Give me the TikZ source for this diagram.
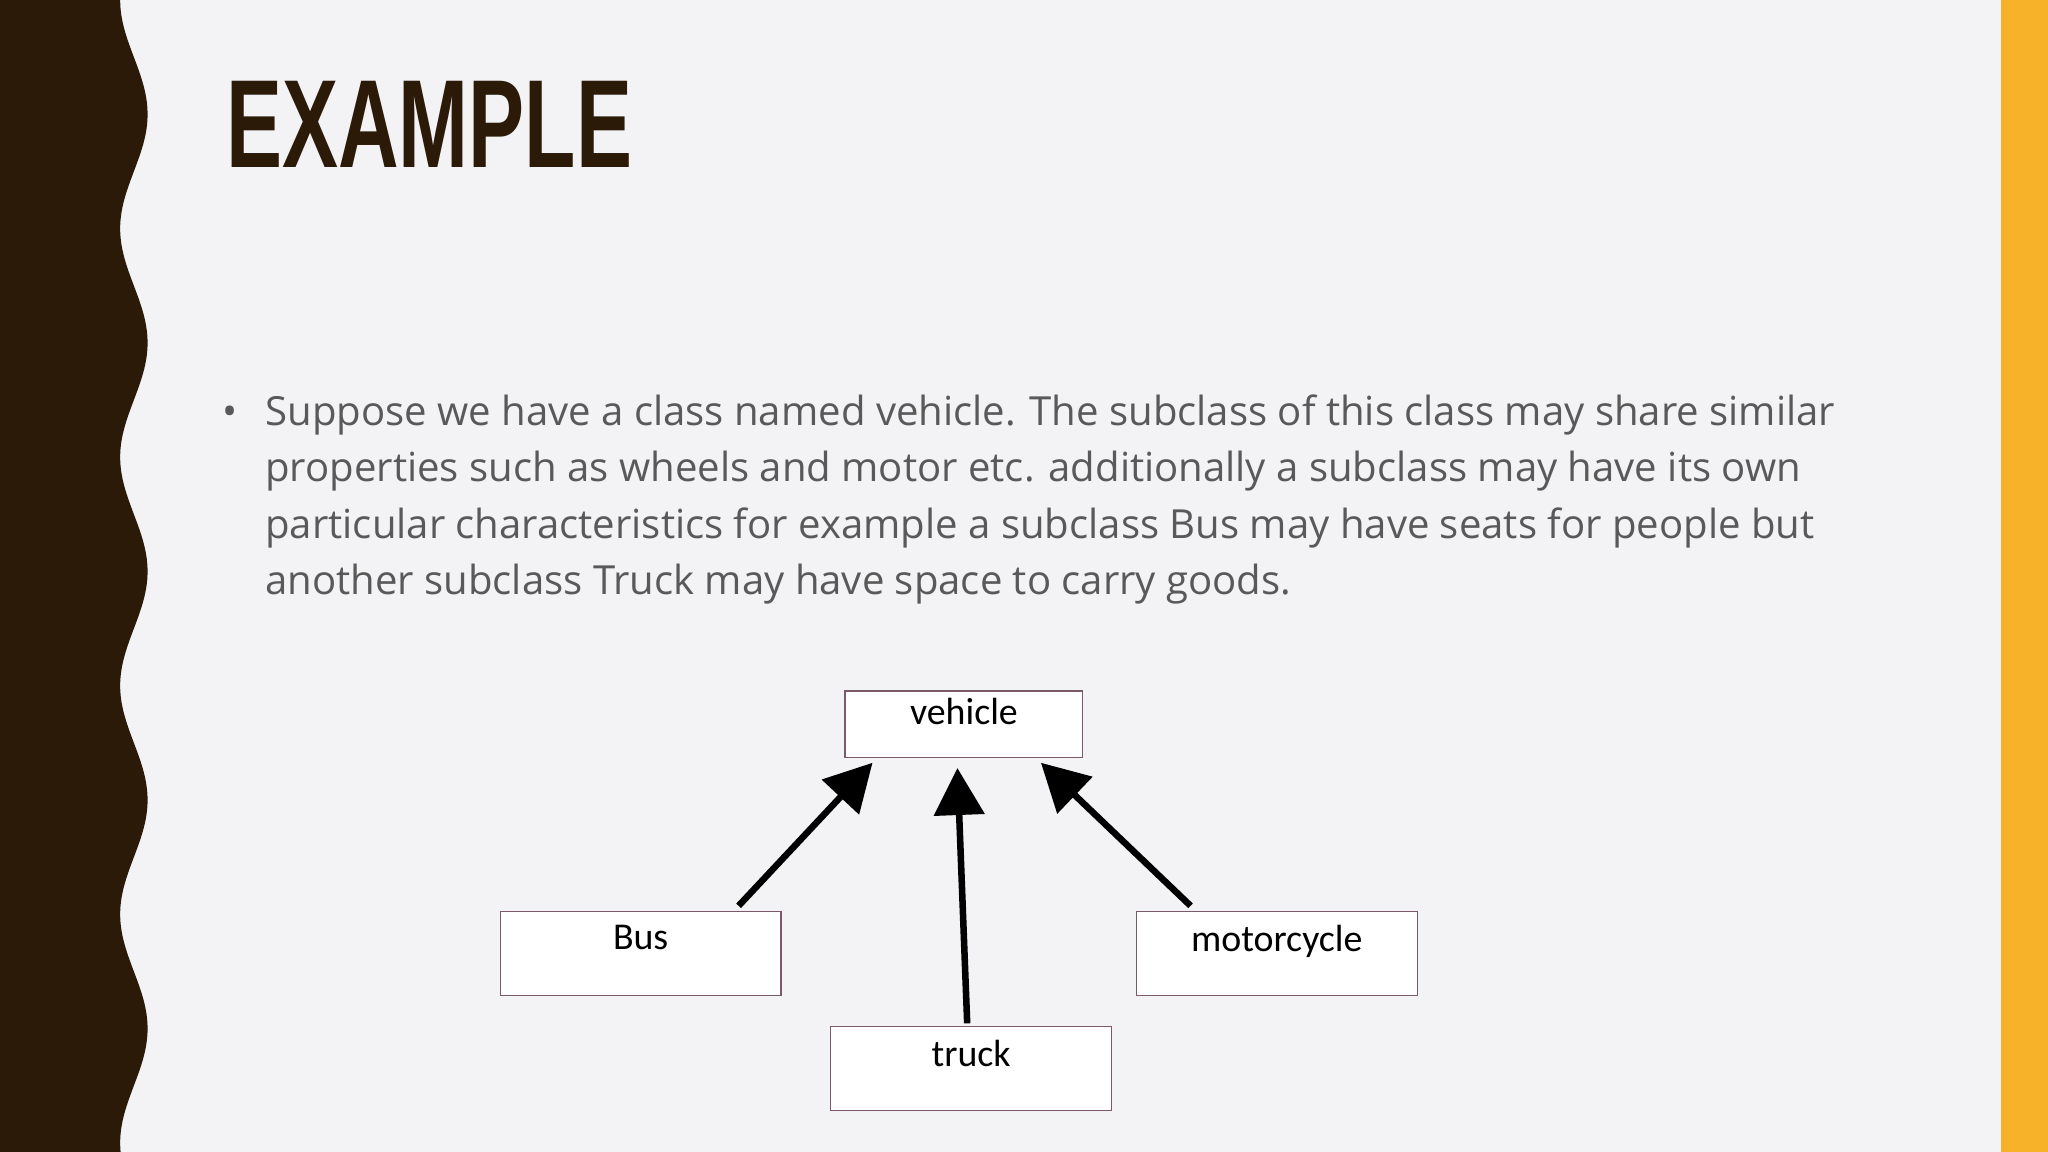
\documentclass[tikz,border=0pt]{standalone}
\usepackage{fontspec}
\setmainfont{Open Sans}
\newfontfamily\boxfont{Carlito}
\newfontfamily\titlefont{Liberation Sans}
\usetikzlibrary{arrows.meta}
\definecolor{bg}{HTML}{F3F2F4}
\definecolor{brownband}{HTML}{2B1A08}
\definecolor{orangeband}{HTML}{F8B22A}
\definecolor{bodygrey}{HTML}{595959}
\definecolor{boxline}{HTML}{7A5A6A}
\tikzset{
  classbox/.style={draw=boxline, line width=1pt, fill=white, inner sep=0pt},
  boxlabel/.style={font=\boxfont\fontsize{29}{33}\selectfont, text=black, anchor=north},
  bodyline/.style={font=\fontsize{30.7}{36}\selectfont, text=bodygrey, anchor=base west, inner sep=0pt},
  inh/.style={line width=5pt, -{Triangle[width=38pt,length=36pt]}, black}
}
\begin{document}
\begin{tikzpicture}[x=1pt,y=-1pt]
\useasboundingbox (0,0) rectangle (1568,882);
\fill[bg] (0,0) rectangle (1568,882);
% wavy left band
\fill[brownband] (0,0) -- plot[domain=0:882, samples=160, smooth] ({102.5-10.5*cos((\x/175)*360)}, \x) -- (0,882) -- cycle;
\fill[orangeband] (1532,0) rectangle (1568,882);
% title
\node[anchor=base west, inner sep=0pt, text=brownband, xscale=0.67,
  font=\titlefont\bfseries\fontsize{96}{100}\selectfont] (title) at (173,128) {EXAMPLE};
% bullet text
\node[bodyline] (bul) at (170,326) {•};
\node[bodyline] (l1) at (203,326) {Suppose we have a class named vehicle. The subclass of this class may share similar};
\node[bodyline] (l2) at (203,369) {properties such as wheels and motor etc. additionally a subclass may have its own};
\node[bodyline] (l3) at (203,412) {particular characteristics for example a subclass Bus may have seats for people but};
\node[bodyline] (l4) at (203,455) {another subclass Truck may have space to carry goods.};
% boxes
\node[classbox, minimum width=182pt, minimum height=51pt] (vehicle) at (738,554.5) {};
\node[boxlabel] at (738,531) {vehicle};
\node[classbox, minimum width=215pt, minimum height=64pt] (bus) at (490.5,730) {};
\node[boxlabel] at (490.5,705) {Bus};
\node[classbox, minimum width=215pt, minimum height=64pt] (truck) at (743.5,818) {};
\node[boxlabel] at (743.5,793) {truck};
\node[classbox, minimum width=215pt, minimum height=64pt] (moto) at (977.5,730) {};
\node[boxlabel] at (977.5,705) {motorcycle};
% arrows
\coordinate (bt) at (668,584);
\coordinate (tt) at (733,588);
\coordinate (mt) at (797,584);
\draw[inh] ([xshift=75pt,yshift=4pt]bus.north) -- (bt);
\draw[inh] ([xshift=-3pt,yshift=2pt]truck.north) -- (tt);
\draw[inh] ([xshift=-66pt,yshift=4pt]moto.north) -- (mt);
\end{tikzpicture}
\end{document}
